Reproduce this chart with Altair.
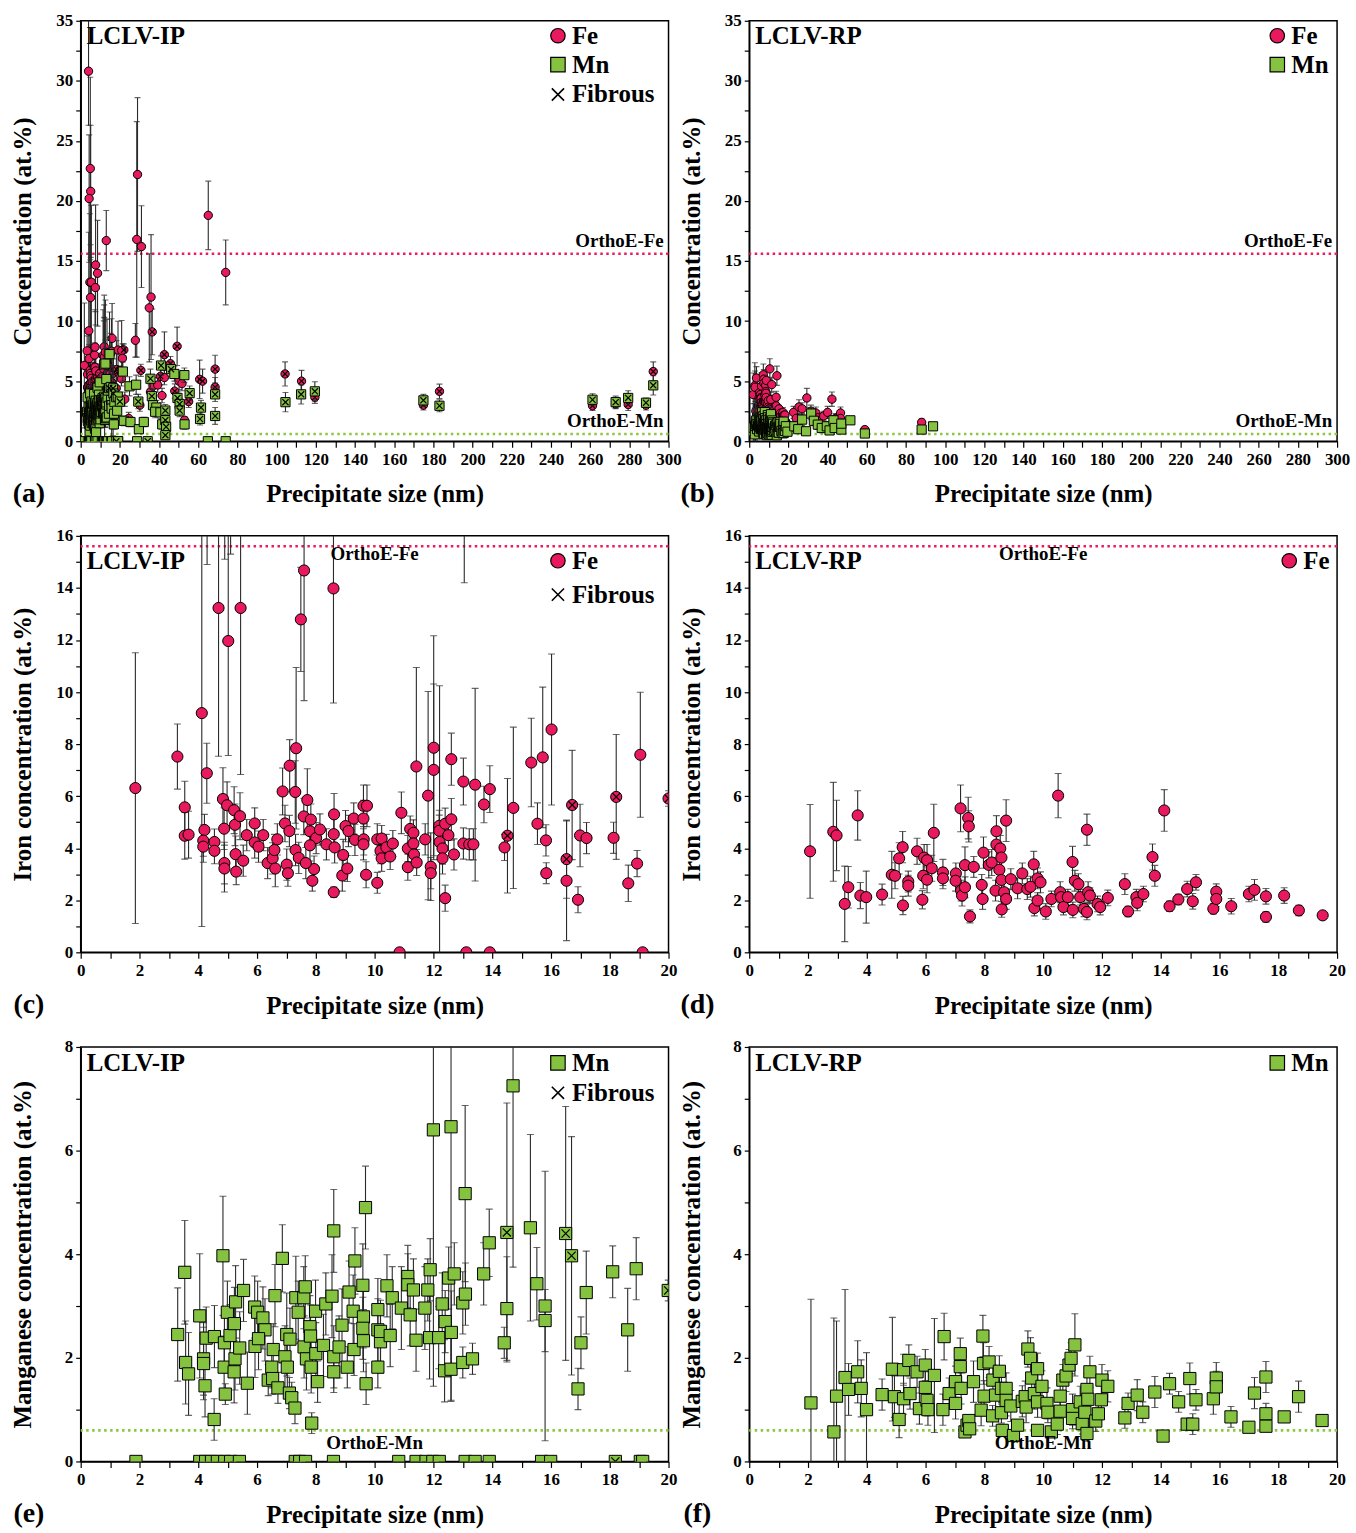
import altair as alt
import pandas as pd

# ---------------- data (size nm, concentration at.%, error, fibrous flag) ----------------
ip_fe = [
    (1.86, 6.31, 5.2, 0), (3.29, 7.52, 1.25, 0), (3.54, 5.57, 1.0, 0), (3.54, 4.48, 0.9, 0),
    (3.67, 4.52, 0.9, 0), (4.12, 9.19, 8.2, 0), (4.29, 6.88, 1.15, 0), (4.21, 4.70, 0.6, 0),
    (4.17, 4.29, 0.6, 0), (4.17, 4.06, 0.6, 0), (4.69, 13.23, 5.7, 0), (5.02, 11.96, 4.4, 0),
    (5.44, 13.23, 6.4, 0), (4.55, 4.24, 0.5, 0), (4.55, 3.90, 0.5, 0), (4.84, 5.89, 1.2, 0),
    (4.88, 4.75, 0.8, 0), (4.89, 3.43, 0.8, 0), (4.89, 3.22, 0.9, 0), (4.98, 5.65, 0.9, 0),
    (5.22, 5.46, 0.9, 0), (5.25, 4.90, 0.8, 0), (5.27, 3.77, 0.7, 0), (5.29, 3.10, 0.5, 0),
    (5.42, 5.23, 0.9, 0), (5.53, 3.52, 0.6, 0), (5.65, 4.50, 0.6, 0), (5.92, 4.95, 0.6, 0),
    (5.92, 4.22, 0.6, 0), (6.05, 4.06, 0.6, 0), (6.21, 4.50, 0.6, 0), (6.36, 3.43, 0.6, 0),
    (6.53, 3.61, 0.6, 0), (6.62, 3.22, 0.7, 0), (6.69, 4.34, 0.6, 0), (6.59, 3.93, 0.6, 0),
    (6.87, 6.18, 0.9, 0), (7.11, 7.17, 1.0, 0), (7.33, 7.84, 3.1, 0), (7.30, 6.16, 1.2, 0),
    (6.95, 4.95, 0.7, 0), (7.10, 4.66, 0.6, 0), (7.01, 3.37, 0.6, 0), (7.05, 3.04, 0.5, 0),
    (7.31, 3.93, 0.6, 0), (7.42, 3.63, 0.6, 0), (7.59, 5.22, 0.7, 0), (7.71, 5.85, 1.2, 0),
    (7.83, 5.10, 0.6, 0), (7.80, 4.65, 0.6, 0), (8.01, 4.39, 0.6, 0), (7.80, 4.11, 0.6, 0),
    (7.94, 3.20, 0.5, 0), (7.88, 2.75, 0.4, 0), (7.66, 3.43, 0.6, 0), (8.14, 4.72, 0.6, 0),
    (8.36, 4.15, 0.6, 0), (8.62, 5.30, 0.8, 0), (8.61, 4.54, 0.6, 0), (8.64, 4.03, 0.6, 0),
    (8.61, 2.31, 0.2, 0), (8.93, 3.74, 0.6, 0), (8.90, 2.95, 0.6, 0), (9.07, 3.22, 0.5, 0),
    (9.01, 4.85, 0.6, 0), (9.11, 4.66, 0.6, 0), (9.29, 5.14, 0.6, 0), (9.33, 4.32, 0.6, 0),
    (9.62, 5.63, 0.8, 0), (9.74, 5.63, 0.8, 0), (9.62, 5.14, 0.7, 0), (9.63, 4.34, 0.6, 0),
    (9.62, 4.15, 0.6, 0), (9.71, 2.98, 0.5, 0), (10.09, 2.67, 0.4, 0), (10.09, 4.34, 0.6, 0),
    (7.49, 12.79, 2.0, 0), (7.60, 14.67, 5.0, 0), (8.60, 13.98, 4.4, 0),
    (4.0, 30.8, 4.5, 0), (4.9, 22.7, 7.6, 0), (5.1, 20.8, 5.5, 0), (4.3, 20.2, 5.3, 0),
    (13.05, 16.7, 2.5, 0),
    (10.24, 4.37, 0.5, 0), (10.20, 3.90, 0.5, 0), (10.24, 3.61, 0.5, 0), (10.40, 4.03, 0.5, 0),
    (10.53, 3.68, 0.5, 0), (10.62, 4.18, 0.5, 0), (10.85, 0.0, 0.0, 0), (10.91, 5.36, 0.8, 0),
    (11.13, 3.99, 0.5, 0), (11.13, 3.27, 0.5, 0), (11.21, 4.74, 0.5, 0), (11.32, 4.59, 0.5, 0),
    (11.32, 4.18, 0.5, 0), (11.34, 3.76, 0.5, 0), (11.43, 3.45, 0.5, 0), (11.42, 7.14, 3.8, 0),
    (11.72, 4.34, 0.6, 0), (11.82, 6.02, 4.0, 0), (11.91, 3.29, 1.3, 0), (11.91, 3.04, 0.6, 0),
    (12.01, 7.86, 4.3, 0), (12.01, 7.01, 3.3, 0), (12.20, 4.86, 0.6, 0), (12.20, 4.67, 0.6, 0),
    (12.21, 4.24, 6.0, 0), (12.31, 3.99, 0.6, 0), (12.31, 3.61, 0.6, 0), (12.40, 2.08, 0.5, 0),
    (12.40, 4.94, 0.6, 0), (12.51, 4.50, 0.6, 0), (12.61, 5.11, 0.8, 0), (12.61, 7.42, 1.0, 0),
    (12.70, 3.76, 0.6, 0), (13.02, 6.56, 0.9, 0), (13.02, 4.18, 0.6, 0), (13.12, 0.0, 0.0, 0),
    (13.22, 4.15, 0.6, 0), (13.36, 4.15, 0.6, 0), (13.42, 6.44, 3.7, 0), (13.72, 5.68, 0.7, 0),
    (13.92, 6.27, 0.9, 0), (13.92, 0.0, 0.0, 0), (14.42, 4.03, 0.5, 0), (14.52, 4.48, 2.2, 1),
    (14.72, 5.55, 3.1, 0), (15.33, 7.29, 1.7, 0), (15.54, 4.94, 0.8, 0), (15.72, 7.49, 2.7, 0),
    (15.83, 4.30, 0.6, 0), (15.84, 3.04, 0.4, 0), (16.02, 8.56, 2.9, 0), (16.53, 3.58, 1.5, 1),
    (16.53, 2.75, 2.3, 0), (16.72, 5.66, 2.1, 1), (16.92, 2.02, 0.5, 0), (16.99, 4.49, 1.2, 0),
    (17.21, 4.39, 0.6, 0), (18.13, 4.40, 0.6, 0), (18.22, 5.97, 2.4, 1), (18.63, 2.65, 0.7, 0),
    (18.93, 3.41, 0.5, 0), (19.04, 7.59, 2.4, 0), (19.12, 0.0, 0.0, 0), (20.0, 5.91, 0.3, 1),
    (22.0, 7.6, 0.5, 1), (20.9, 7.55, 2.5, 0), (21.3, 6.9, 1.2, 0), (20.8, 5.2, 0.6, 0),
    (22.5, 3.5, 0.6, 0), (24.5, 1.9, 0.5, 0), (27.9, 8.4, 1.4, 0), (28.6, 16.8, 9.8, 0),
    (29.0, 22.2, 6.4, 0), (31.0, 16.2, 3.4, 0), (30.7, 5.9, 0.5, 1), (30.2, 3.0, 0.5, 0),
    (35.0, 11.1, 4.5, 0), (35.9, 12.0, 5.2, 0), (36.5, 9.1, 1.9, 1), (35.6, 4.1, 0.6, 0),
    (36.9, 4.6, 0.7, 0), (39.3, 4.68, 0.6, 0), (40.7, 5.4, 0.7, 1), (41.5, 3.8, 0.6, 0),
    (42.7, 5.3, 0.6, 0), (42.7, 7.2, 1.9, 1), (45.8, 6.45, 0.6, 1), (48.0, 4.17, 0.6, 1),
    (49.2, 7.9, 1.6, 1), (50.2, 5.0, 0.7, 0), (51.7, 4.8, 0.6, 0), (53.0, 1.75, 0.3, 0),
    (55.1, 3.3, 0.5, 1), (60.7, 5.15, 1.6, 1), (62.2, 5.0, 1.0, 1), (65.1, 18.8, 2.85, 0),
    (68.6, 6.0, 1.15, 1), (68.6, 4.5, 0.8, 1), (74.0, 14.05, 2.7, 0), (104.3, 5.6, 1.0, 1),
    (112.7, 5.0, 0.9, 1), (119.5, 3.65, 0.5, 1), (174.9, 3.0, 0.4, 1), (183.1, 4.15, 0.6, 1),
    (261.2, 2.95, 0.4, 1), (273.0, 3.1, 0.4, 1), (279.4, 3.05, 0.5, 1), (288.5, 3.0, 0.4, 1),
    (292.2, 5.8, 0.8, 1),
]

ip_mn = [
    (1.88, 0.0, 0.0, 0), (3.30, 2.45, 0.9, 0), (3.54, 3.65, 1.0, 0), (3.57, 1.91, 0.8, 0),
    (3.67, 1.69, 0.8, 0), (4.05, 2.81, 1.2, 0), (4.18, 1.98, 0.7, 0), (4.18, 1.89, 0.7, 0),
    (4.23, 1.46, 0.6, 0), (4.27, 2.38, 0.6, 0), (4.54, 0.81, 0.4, 0), (4.55, 2.41, 0.6, 0),
    (4.84, 3.97, 1.15, 0), (4.92, 1.30, 0.2, 0), (4.89, 2.29, 0.5, 0), (4.88, 1.82, 0.6, 0),
    (4.99, 2.88, 0.6, 0), (5.08, 2.43, 0.6, 0), (5.22, 1.73, 0.6, 0), (5.23, 2.66, 0.7, 0),
    (5.27, 3.08, 0.7, 0), (5.25, 1.98, 0.6, 0), (5.41, 2.19, 0.7, 0), (5.54, 3.30, 0.6, 0),
    (5.67, 1.51, 0.6, 0), (5.92, 2.98, 0.6, 0), (5.93, 2.22, 0.6, 0), (6.02, 2.88, 0.6, 0),
    (6.20, 2.77, 0.6, 0), (6.27, 2.54, 0.6, 0), (6.05, 2.37, 0.6, 0), (6.38, 1.57, 0.3, 0),
    (6.50, 1.82, 0.4, 0), (6.53, 1.60, 0.3, 0), (6.61, 3.20, 0.6, 0), (6.55, 2.16, 0.5, 0),
    (6.71, 1.42, 0.3, 0), (6.86, 3.92, 0.65, 0), (6.95, 2.02, 0.6, 0), (7.01, 2.45, 0.8, 0),
    (7.03, 1.82, 0.6, 0), (7.12, 2.36, 0.6, 0), (7.10, 1.32, 0.3, 0), (7.18, 1.23, 0.3, 0),
    (7.29, 1.03, 0.3, 0), (7.32, 3.16, 0.8, 0), (7.40, 2.88, 0.6, 0), (7.59, 3.16, 0.6, 0),
    (7.64, 3.37, 0.6, 0), (7.60, 2.21, 0.6, 0), (7.68, 1.98, 0.6, 0), (7.80, 2.60, 0.6, 0),
    (7.82, 2.42, 0.6, 0), (7.99, 2.90, 0.6, 0), (8.00, 2.08, 0.6, 0), (7.84, 1.82, 0.5, 0),
    (8.06, 1.54, 0.4, 0), (7.86, 0.74, 0.2, 0), (8.34, 3.04, 0.6, 0), (8.26, 2.24, 0.6, 0),
    (8.55, 3.19, 0.8, 0), (8.61, 4.45, 0.8, 0), (8.61, 1.73, 0.4, 0), (8.61, 2.02, 0.6, 0),
    (8.79, 2.21, 0.6, 0), (8.89, 2.63, 0.7, 0), (9.13, 3.27, 0.6, 0), (9.07, 1.82, 0.4, 0),
    (9.27, 2.90, 0.7, 0), (9.30, 2.16, 0.5, 0), (9.33, 3.87, 0.64, 0), (9.60, 3.40, 0.8, 0),
    (9.62, 2.79, 0.6, 0), (9.60, 2.57, 0.6, 0), (9.62, 2.33, 0.6, 0), (9.69, 4.90, 0.8, 0),
    (9.71, 1.50, 0.4, 0), (10.11, 2.93, 0.6, 0), (10.11, 2.54, 0.6, 0), (10.11, 1.82, 0.4, 0),
    (10.20, 2.31, 0.6, 0), (10.20, 2.51, 0.6, 0), (10.42, 3.39, 0.6, 0), (10.53, 2.43, 0.6, 0),
    (10.60, 3.16, 0.6, 0), (10.91, 2.96, 0.8, 0), (11.13, 3.57, 0.6, 0), (11.13, 3.41, 0.6, 0),
    (11.21, 2.83, 0.6, 0), (11.32, 3.31, 0.6, 0), (11.41, 2.34, 0.6, 0), (11.71, 2.96, 0.8, 0),
    (11.81, 3.31, 0.6, 0), (11.87, 2.39, 0.8, 0), (11.89, 3.70, 0.6, 0), (12.00, 6.40, 4.95, 0),
    (12.18, 2.39, 0.6, 0), (12.30, 3.04, 0.6, 0), (12.38, 1.75, 0.6, 0), (12.40, 2.70, 0.6, 0),
    (12.52, 3.54, 0.6, 0), (12.60, 6.46, 5.3, 0), (12.60, 1.78, 0.6, 0), (12.61, 2.49, 0.8, 0),
    (12.71, 3.62, 0.6, 0), (13.00, 3.06, 0.6, 0), (13.08, 5.17, 1.7, 0), (13.09, 3.23, 0.6, 0),
    (13.00, 1.91, 0.3, 0), (13.33, 1.98, 0.3, 0), (13.71, 3.62, 0.6, 0), (13.90, 4.22, 0.65, 0),
    (14.41, 2.29, 0.3, 0), (14.50, 2.95, 1.0, 0), (14.50, 4.42, 2.5, 1), (14.71, 7.25, 3.5, 0),
    (15.30, 4.51, 1.8, 0), (15.52, 3.43, 0.7, 0), (15.80, 3.00, 2.6, 0), (15.80, 2.72, 0.6, 0),
    (16.50, 4.40, 2.45, 1), (16.70, 3.97, 2.3, 1), (17.02, 2.29, 0.5, 0), (17.20, 3.26, 0.8, 0),
    (16.92, 1.40, 0.4, 0), (18.10, 3.66, 0.5, 0), (18.61, 2.54, 0.8, 0), (18.90, 3.72, 0.6, 0),
    (19.99, 3.30, 0.2, 1),
    (4.05, 0.0, 0.0, 0), (4.25, 0.0, 0.0, 0), (4.45, 0.0, 0.0, 0), (4.65, 0.0, 0.0, 0),
    (4.90, 0.0, 0.0, 0), (5.10, 0.0, 0.0, 0), (5.40, 0.0, 0.0, 0), (7.30, 0.0, 0.0, 0),
    (7.45, 0.0, 0.0, 0), (7.65, 0.0, 0.0, 0), (8.60, 0.0, 0.0, 0), (10.82, 0.0, 0.0, 0),
    (11.41, 0.0, 0.0, 0), (11.75, 0.0, 0.0, 0), (11.98, 0.0, 0.0, 0), (12.20, 0.0, 0.0, 0),
    (13.08, 0.0, 0.0, 0), (13.42, 0.0, 0.0, 0), (13.90, 0.0, 0.0, 0), (15.68, 0.0, 0.0, 0),
    (15.99, 0.0, 0.0, 0), (18.19, 0.0, 0.0, 1), (19.04, 0.0, 0.0, 0), (19.12, 0.0, 0.0, 0),
    (21.5, 5.8, 0.8, 0), (22.0, 1.7, 0.4, 0), (24.9, 4.57, 0.8, 0), (25.4, 1.6, 0.4, 0),
    (28.3, 4.7, 0.8, 0), (29.4, 3.3, 0.6, 1), (29.7, 1.0, 0.3, 0), (28.8, 0.0, 0.0, 0),
    (32.2, 1.6, 0.4, 0), (34.2, 0.0, 0.0, 1), (35.6, 5.2, 0.8, 1), (36.3, 3.75, 0.6, 1),
    (36.9, 3.0, 0.6, 0), (38.6, 2.8, 0.6, 0), (38.0, 2.45, 0.5, 0), (40.7, 2.4, 0.5, 0),
    (41.0, 6.3, 0.8, 1), (41.6, 1.4, 0.4, 0), (43.2, 2.55, 0.5, 1), (43.2, 1.75, 0.5, 1),
    (43.6, 1.2, 0.4, 1), (43.2, 0.5, 0.3, 1), (46.1, 6.0, 0.6, 1), (47.8, 5.6, 0.6, 0),
    (49.4, 3.6, 0.5, 1), (50.5, 3.1, 0.5, 1), (50.5, 2.55, 0.5, 1), (52.9, 5.5, 0.6, 0),
    (53.0, 1.4, 0.4, 0), (55.6, 4.0, 0.6, 1), (60.9, 1.85, 0.5, 1), (61.4, 2.8, 0.6, 1),
    (64.9, 0.0, 0.0, 0), (68.6, 3.9, 0.6, 1), (68.6, 2.1, 0.7, 1), (74.0, 0.0, 0.0, 0),
    (104.5, 3.25, 0.8, 1), (112.5, 3.9, 0.8, 1), (119.5, 4.15, 0.8, 1), (174.9, 3.4, 0.5, 1),
    (183.1, 2.95, 0.5, 1), (261.2, 3.45, 0.5, 1), (273.0, 3.25, 0.5, 1), (279.4, 3.6, 0.6, 1),
    (288.5, 3.2, 0.4, 1), (292.2, 4.65, 0.8, 1),
]

rp_fe = [
    (2.07, 3.88, 1.8), (2.86, 4.63, 1.9), (2.97, 4.49, 1.35), (3.25, 1.86, 1.45), (3.37, 2.50, 0.8),
    (3.69, 5.26, 0.95), (3.78, 2.18, 0.5), (3.98, 2.12, 1.0), (4.52, 2.22, 0.4), (4.85, 2.98, 0.9),
    (4.96, 2.94, 0.5), (5.10, 3.61, 0.6), (5.22, 4.04, 0.6), (5.23, 1.80, 0.35), (5.41, 2.72, 0.4),
    (5.41, 2.56, 0.4), (5.71, 3.88, 0.5), (5.89, 2.02, 0.35), (5.95, 3.64, 0.5), (5.92, 2.94, 0.5),
    (6.05, 3.54, 0.6), (6.05, 2.79, 0.5), (6.21, 3.23, 0.5), (6.28, 4.59, 1.1), (6.59, 3.07, 0.5),
    (6.59, 2.84, 0.4), (7.03, 3.03, 0.4), (7.02, 2.75, 0.4), (7.19, 5.53, 0.9), (7.34, 3.35, 0.7),
    (7.21, 2.37, 0.4), (7.24, 2.18, 0.4), (7.34, 2.50, 0.4), (7.45, 5.16, 0.8), (7.47, 4.84, 0.6),
    (7.51, 1.38, 0.25), (7.64, 3.28, 0.4), (7.94, 2.05, 0.4), (7.97, 3.83, 0.6), (7.91, 2.59, 0.4),
    (8.15, 3.36, 0.5), (8.25, 3.45, 0.5), (8.41, 4.65, 0.6), (8.41, 4.14, 0.5), (8.54, 3.99, 0.5),
    (8.51, 3.17, 0.5), (8.58, 3.64, 0.5), (8.58, 2.78, 0.4), (8.59, 1.65, 0.3), (8.74, 5.06, 0.8),
    (8.38, 2.37, 0.4), (8.67, 2.31, 0.4), (8.74, 2.05, 0.4), (8.90, 2.81, 0.4), (9.13, 2.46, 0.4),
    (9.29, 3.03, 0.4), (9.46, 2.43, 0.4), (9.57, 2.52, 0.4), (9.68, 3.38, 0.5), (9.70, 1.70, 0.3),
    (9.81, 2.84, 0.4), (9.81, 1.99, 0.3), (9.91, 2.69, 0.4), (10.09, 1.57, 0.3), (10.28, 2.05, 0.3),
    (10.51, 6.02, 0.85), (10.58, 2.31, 0.4), (10.61, 2.12, 0.3), (10.69, 1.74, 0.3), (10.84, 2.12, 0.3),
    (11.00, 3.47, 0.6), (11.08, 2.75, 0.4), (11.01, 1.63, 0.3), (11.20, 2.62, 0.4), (11.26, 2.12, 0.3),
    (11.39, 1.67, 0.3), (11.49, 4.71, 0.6), (11.53, 2.31, 0.4), (11.49, 1.55, 0.3), (11.59, 2.18, 0.3),
    (11.85, 1.86, 0.3), (11.94, 1.74, 0.3), (12.20, 2.09, 0.3), (12.78, 2.62, 0.4), (12.89, 1.57, 0.2),
    (13.17, 2.12, 0.3), (13.20, 1.90, 0.3), (13.41, 2.24, 0.3), (13.72, 3.66, 0.5), (13.80, 2.94, 0.4),
    (14.12, 5.45, 0.8), (14.30, 1.77, 0.2), (14.60, 2.03, 0.2), (14.90, 2.43, 0.3), (15.09, 1.96, 0.3),
    (15.20, 2.69, 0.3), (15.79, 1.67, 0.2), (15.89, 2.33, 0.3), (15.89, 2.05, 0.3), (16.40, 1.77, 0.3),
    (17.00, 2.24, 0.3), (17.19, 2.40, 0.4), (17.58, 2.15, 0.3), (17.58, 1.36, 0.2), (18.20, 2.18, 0.3),
    (18.70, 1.61, 0.2), (19.51, 1.42, 0.1),
    (22.6, 2.4, 0.5), (24.0, 1.9, 0.4), (25.4, 2.85, 0.6), (27.0, 2.7, 0.5), (29.4, 3.6, 0.8),
    (31.5, 2.5, 0.5), (34.0, 2.35, 0.5), (35.0, 1.95, 0.4), (38.0, 2.1, 0.4), (40.0, 2.4, 0.5),
    (42.2, 3.5, 0.6), (44.0, 1.9, 0.4), (46.6, 2.35, 0.5), (46.6, 1.9, 0.4), (59.0, 0.97, 0.2),
    (88.0, 1.57, 0.3),
]

rp_mn = [
    (2.10, 1.13, 2.0), (2.88, 0.57, 2.2), (2.97, 1.26, 1.45), (3.26, 1.62, 1.7), (3.38, 1.39, 0.5),
    (3.69, 1.73, 0.6), (3.81, 1.41, 0.55), (3.99, 1.00, 1.1), (4.52, 1.29, 0.3), (4.87, 1.78, 1.0),
    (4.94, 1.25, 0.4), (5.10, 0.81, 0.35), (5.25, 1.77, 0.3), (5.25, 1.21, 0.3), (5.43, 1.95, 0.3),
    (5.47, 1.31, 0.3), (5.71, 1.73, 0.3), (5.79, 1.02, 0.3), (5.99, 1.86, 0.3), (5.99, 1.43, 0.3),
    (6.05, 1.18, 0.3), (6.08, 1.00, 0.3), (6.30, 1.66, 1.1), (6.59, 1.00, 0.3), (6.63, 2.41, 0.45),
    (6.80, 1.31, 0.3), (7.02, 1.54, 0.3), (7.02, 1.12, 0.3), (7.18, 2.08, 0.3), (7.18, 1.83, 0.3),
    (7.21, 1.41, 0.3), (7.34, 0.57, 0.1), (7.41, 0.70, 0.1), (7.47, 0.79, 0.1), (7.50, 0.63, 0.1),
    (7.63, 1.54, 0.4), (7.89, 0.99, 0.3), (7.95, 2.42, 0.4), (7.97, 1.89, 0.4), (7.99, 1.26, 0.3),
    (8.16, 1.92, 0.3), (8.29, 1.57, 0.3), (8.28, 0.88, 0.2), (8.38, 1.28, 0.3), (8.51, 1.74, 0.3),
    (8.58, 1.41, 0.3), (8.58, 0.94, 0.2), (8.61, 0.60, 0.1), (8.74, 1.41, 0.3), (8.74, 1.18, 0.3),
    (8.90, 1.07, 0.3), (8.99, 0.50, 0.1), (9.13, 0.70, 0.1), (9.29, 1.16, 0.3), (9.39, 1.25, 0.3),
    (9.42, 1.05, 0.3), (9.48, 2.17, 0.35), (9.57, 1.99, 0.4), (9.61, 1.61, 0.3), (9.70, 1.31, 0.3),
    (9.81, 1.79, 0.3), (9.81, 1.15, 0.3), (9.81, 0.60, 0.1), (9.96, 1.45, 0.3), (10.13, 1.12, 0.3),
    (10.16, 0.95, 0.2), (10.28, 0.57, 0.1), (10.48, 0.72, 0.2), (10.58, 1.26, 0.3), (10.58, 0.97, 0.2),
    (10.67, 1.57, 0.3), (10.78, 1.65, 0.3), (10.88, 1.86, 0.3), (10.95, 1.99, 0.3), (11.00, 1.00, 0.3),
    (11.00, 0.83, 0.2), (11.08, 2.25, 0.6), (11.26, 1.15, 0.3), (11.33, 0.73, 0.2), (11.42, 0.95, 0.2),
    (11.49, 1.39, 0.3), (11.52, 1.20, 0.3), (11.59, 1.73, 0.3), (11.49, 0.54, 0.1), (11.79, 0.78, 0.2),
    (11.88, 0.92, 0.2), (11.98, 1.19, 0.3), (12.00, 1.57, 0.3), (12.20, 1.45, 0.3), (12.78, 0.84, 0.2),
    (12.89, 1.12, 0.2), (13.20, 1.28, 0.3), (13.39, 0.95, 0.2), (13.80, 1.34, 0.3), (14.08, 0.49, 0.1),
    (14.30, 1.50, 0.2), (14.61, 1.15, 0.2), (14.90, 0.72, 0.1), (14.99, 1.60, 0.3), (15.09, 0.72, 0.2),
    (15.20, 1.19, 0.2), (15.79, 1.21, 0.3), (15.89, 1.61, 0.3), (15.89, 1.44, 0.3), (16.39, 0.86, 0.2),
    (17.00, 0.66, 0.1), (17.19, 1.32, 0.3), (17.58, 1.63, 0.3), (17.58, 0.92, 0.2), (17.58, 0.68, 0.1),
    (18.20, 0.86, 0.1), (18.69, 1.25, 0.3), (19.49, 0.79, 0.1),
    (23.0, 1.24, 0.4), (25.0, 1.0, 0.3), (27.0, 1.8, 0.5), (29.0, 0.83, 0.3), (31.6, 2.3, 0.5),
    (33.0, 1.7, 0.4), (35.0, 1.38, 0.4), (37.0, 1.1, 0.4), (39.6, 1.24, 0.4), (41.0, 0.9, 0.3),
    (43.0, 1.74, 0.4), (43.6, 1.1, 0.3), (47.0, 0.97, 0.3), (47.0, 1.46, 0.4), (51.6, 1.74, 0.3),
    (59.0, 0.64, 0.2), (88.0, 0.97, 0.2), (93.8, 1.24, 0.2),
]

ortho_fe = 15.6
ortho_mn = 0.6

# ---------------- styling ----------------
FONT = "Liberation Serif"
FE_COLOR = "#E8195C"
MN_COLOR = "#84C240"
FE_LINE = "#EC1C5C"
MN_LINE = "#8DC63F"
XPATH = "M-1,-1L1,1M-1,1L1,-1"
BAR = "#2a2a2a"


def frame(rows, xmax):
    rows = [tuple(r) + ((0,) if len(r) == 3 else ()) for r in rows]
    df = pd.DataFrame(rows, columns=["size", "conc", "err", "fib"])
    df = df[df["size"] <= xmax + 0.6].copy()
    df["lo"] = df["conc"] - df["err"]
    df["hi"] = df["conc"] + df["err"]
    return df


def series(df, X, Yf, shape, color, msize, cap):
    eb = df[df["err"] > 0]
    rule = alt.Chart(eb).mark_rule(color=BAR, strokeWidth=1.1, clip=True).encode(
        x=X, y=Yf("lo"), y2="hi:Q")
    cap_hi = alt.Chart(eb).mark_tick(orient="horizontal", color=BAR, size=cap, thickness=1.1,
                                     clip=True).encode(x=X, y=Yf("hi"))
    cap_lo = alt.Chart(eb).mark_tick(orient="horizontal", color=BAR, size=cap, thickness=1.1,
                                     clip=True).encode(x=X, y=Yf("lo"))
    pts = alt.Chart(df).mark_point(shape=shape, filled=True, fill=color, color=color, stroke="black",
                                   strokeWidth=1, size=msize, opacity=1, clip=True).encode(
        x=X, y=Yf("conc"))
    layers = [rule, cap_hi, cap_lo, pts]
    fib = df[df["fib"] == 1]
    if len(fib):
        layers.append(alt.Chart(fib).mark_point(shape=XPATH, filled=False, stroke="black",
                                                strokeWidth=1.2, size=msize * 0.45, opacity=1,
                                                clip=True).encode(x=X, y=Yf("conc")))
    return layers


def panel(fe_rows, mn_rows, xmax, xtick, xlab, ymax, ytick, ylab, ytitle, h, sample,
          legend, legx, sample_y, ortho, letter, msz, cap):
    w = 590
    xs = alt.Scale(domain=[0, xmax], nice=False, zero=True)
    ys = alt.Scale(domain=[0, ymax], nice=False, zero=True)
    xvals = [round(i * xtick, 3) for i in range(int(round(xmax / xtick)) + 1)]
    yvals = [round(i * ytick, 3) for i in range(int(round(ymax / ytick)) + 1)]
    xaxis = alt.Axis(values=xvals, labelExpr=f"datum.value % {xlab} === 0 ? datum.label : ''",
                     title="Precipitate size (nm)", titleY=53, titleBaseline="middle",
                     labelFlush=False, labelOverlap=False, tickSize=6, labelPadding=4)
    yaxis = alt.Axis(values=yvals, labelExpr=f"datum.value % {ylab} === 0 ? datum.label : ''",
                     title=ytitle, titleX=-58, titleY=h / 2, titleBaseline="middle",
                     titleAlign="center", labelOverlap=False, tickSize=5, labelPadding=3)
    X = alt.X("size:Q", scale=xs, axis=xaxis)

    def Yf(field):
        return alt.Y(f"{field}:Q", scale=ys, axis=yaxis)

    layers = []
    lines = []
    if fe_rows is not None:
        lines.append((ortho_fe, FE_LINE))
    if mn_rows is not None:
        lines.append((ortho_mn, MN_LINE))
    for val, col in lines:
        layers.append(alt.Chart(pd.DataFrame({"conc": [val]})).mark_rule(
            color=col, strokeDash=[2.5, 3.5], strokeWidth=2.6).encode(y=Yf("conc")))
    if fe_rows is not None:
        layers += series(frame(fe_rows, xmax), X, Yf, "circle", FE_COLOR, msz[0], cap)
    if mn_rows is not None:
        layers += series(frame(mn_rows, xmax), X, Yf, "square", MN_COLOR, msz[1], cap)
    # reference-line labels
    for txt, xv, yv, align in ortho:
        layers.append(alt.Chart(pd.DataFrame({"size": [xv], "conc": [yv], "t": [txt]})).mark_text(
            font=FONT, fontWeight="bold", fontSize=19, align=align, baseline="middle",
            color="black").encode(x=X, y=Yf("conc"), text="t:N"))
    # sample label
    layers.append(alt.Chart(pd.DataFrame({"t": [sample]})).mark_text(
        font=FONT, fontWeight="bold", fontSize=25, align="left", baseline="middle",
        color="black").encode(x=alt.value(6), y=alt.value(sample_y), text="t:N"))
    # legend
    for name, kind, ly in legend:
        if kind == "fe":
            sym = alt.Chart(pd.DataFrame({"a": [0]})).mark_point(
                shape="circle", filled=True, fill=FE_COLOR, color=FE_COLOR, stroke="black",
                strokeWidth=1.2, size=210, opacity=1)
        elif kind == "mn":
            sym = alt.Chart(pd.DataFrame({"a": [0]})).mark_point(
                shape="square", filled=True, fill=MN_COLOR, color=MN_COLOR, stroke="black",
                strokeWidth=1.2, size=210, opacity=1)
        else:
            sym = alt.Chart(pd.DataFrame({"a": [0]})).mark_point(
                shape=XPATH, filled=False, stroke="black", strokeWidth=1.6, size=150, opacity=1)
        layers.append(sym.encode(x=alt.value(legx), y=alt.value(ly)))
        layers.append(alt.Chart(pd.DataFrame({"t": [name]})).mark_text(
            font=FONT, fontWeight="bold", fontSize=25, align="left", baseline="middle",
            color="black").encode(x=alt.value(legx + 14), y=alt.value(ly), text="t:N"))
    # panel letter
    layers.append(alt.Chart(pd.DataFrame({"t": [letter]})).mark_text(
        font=FONT, fontWeight="bold", fontSize=28, align="center", baseline="middle",
        color="black").encode(x=alt.value(-52), y=alt.value(h + 53), text="t:N"))
    return alt.layer(*layers).properties(width=w, height=h)


top_ortho = [("OrthoE-Fe", 297.5, 16.7, "right"), ("OrthoE-Mn", 297.5, 1.65, "right")]

pa = panel(ip_fe, ip_mn, 300, 10, 20, 35, 2.5, 5, "Concentration (at.%)", 422, "LCLV-IP",
           [("Fe", "fe", 15), ("Mn", "mn", 44), ("Fibrous", "x", 74)], 479, 15, top_ortho,
           "(a)", (70, 85), 6)
pb = panel(rp_fe, rp_mn, 300, 10, 20, 35, 2.5, 5, "Concentration (at.%)", 422, "LCLV-RP",
           [("Fe", "fe", 15), ("Mn", "mn", 44)], 530, 15, top_ortho, "(b)", (70, 85), 6)
pc = panel(ip_fe, None, 20, 1, 2, 16, 1, 2, "Iron concentration (at.%)", 418, "LCLV-IP",
           [("Fe", "fe", 25), ("Fibrous", "x", 59)], 479, 25,
           [("OrthoE-Fe", 10.0, 15.3, "center")], "(c)", (125, 150), 7)
pd_ = panel(rp_fe, None, 20, 1, 2, 16, 1, 2, "Iron concentration (at.%)", 418, "LCLV-RP",
            [("Fe", "fe", 25)], 542, 25, [("OrthoE-Fe", 10.0, 15.3, "center")], "(d)",
            (125, 150), 7)
pe = panel(None, ip_mn, 20, 1, 2, 8, 1, 2, "Manganese concentration (at.%)", 416, "LCLV-IP",
           [("Mn", "mn", 16), ("Fibrous", "x", 46)], 479, 16,
           [("OrthoE-Mn", 10.0, 0.35, "center")], "(e)", (125, 150), 7)
pf = panel(None, rp_mn, 20, 1, 2, 8, 1, 2, "Manganese concentration (at.%)", 416, "LCLV-RP",
           [("Mn", "mn", 16)], 530, 16, [("OrthoE-Mn", 10.0, 0.35, "center")], "(f)",
           (125, 150), 7)

chart = alt.concat(pa, pb, pc, pd_, pe, pf, columns=2, spacing={"row": 95, "column": 81},
                   bounds="flush", align="each").properties(
    padding={"left": 10, "top": 8, "right": 5, "bottom": 5},
    background="white",
).configure_axis(
    labelFont=FONT, labelFontSize=17, labelFontWeight="bold", labelColor="black",
    titleFont=FONT, titleFontSize=25, titleFontWeight="bold", titleColor="black",
    domainColor="black", domainWidth=1.5, tickColor="black", tickWidth=1.2, grid=False,
).configure_view(stroke="black", strokeWidth=1.5)

chart.save("out.html", embed_options={"renderer": "svg", "actions": False})
